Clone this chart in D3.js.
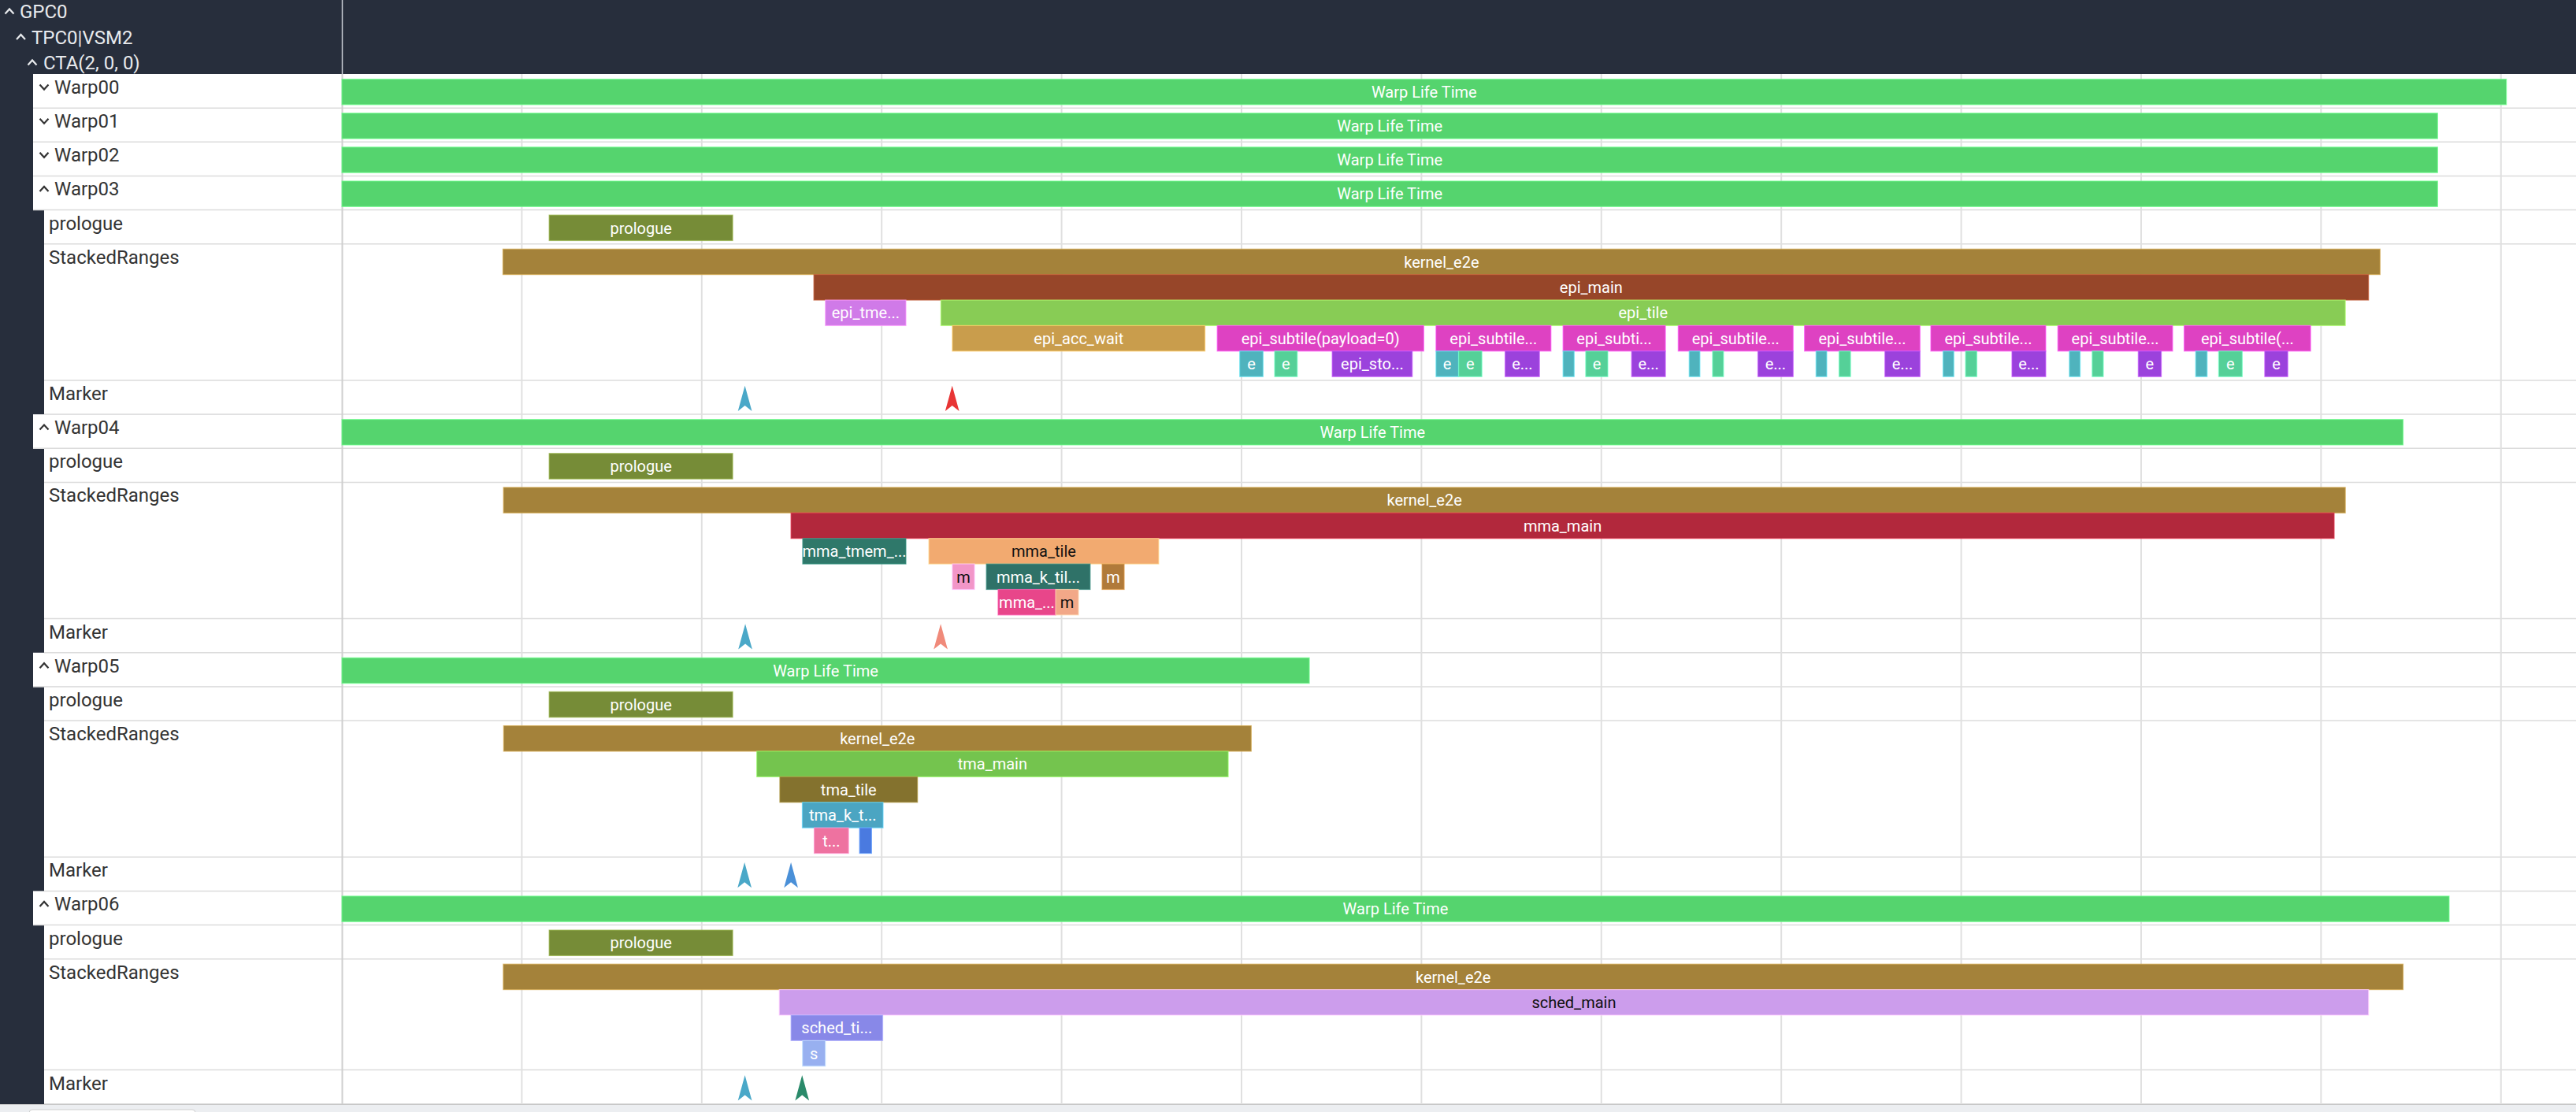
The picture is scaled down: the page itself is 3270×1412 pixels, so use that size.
<!DOCTYPE html>
<html>
<head>
<meta charset="utf-8">
<title>Warp timeline</title>
<script src="https://cdn.jsdelivr.net/npm/d3@7"></script>
<style>
  html, body { margin: 0; padding: 0; background: #fff; overflow: hidden; }
  #timeline { width: 3270px; height: 1412px; }
  text { font-family: Roboto, "Noto Sans", sans-serif; }
</style>
</head>
<body>
<div id="timeline"></div>
<script>
// ---- data (time in grid units, one unit per grid column) ----
const treeNodes = ['GPC0', 'TPC0|VSM2', 'CTA(2, 0, 0)'];

const warpNames = ['Warp00', 'Warp01', 'Warp02', 'Warp03', 'Warp04', 'Warp05', 'Warp06'];
const warpExpanded = [false, false, false, true, true, true, true];
const warpLifeStart = [0, 0, 0, 0, 0, 0, 0];
const warpLifeEnd = [12.03, 11.648, 11.648, 11.648, 11.456, 5.377, 11.712];
const lifeLabel = 'Warp Life Time';

const prologueStart = [null, null, null, 1.152, 1.152, 1.152, 1.152];
const prologueEnd = [null, null, null, 2.172, 2.172, 2.172, 2.172];

// [kind, shown label, start, end]
const stackedWarp03 = [
    ['kernel_e2e', 'kernel_e2e', 0.895, 11.328],
    ['epi_main', 'epi_main', 2.623, 11.264],
    ['epi_tmem_alloc', 'epi_tme...', 2.687, 3.135],
    ['epi_tile', 'epi_tile', 3.329, 11.135],
    ['epi_acc_wait', 'epi_acc_wait', 3.393, 4.797],
    ['epi_subtile', 'epi_subtile(payload=0)', 4.865, 6.013],
    ['epi_tmem_load', 'e', 4.990, 5.120],
    ['epi_smem_store', 'e', 5.184, 5.310],
    ['epi_tma_store', 'epi_sto...', 5.504, 5.949],
    ['epi_subtile', 'epi_subtile...', 6.081, 6.720],
    ['epi_tmem_load', 'e', 6.081, 6.206],
    ['epi_smem_store', 'e', 6.207, 6.336],
    ['epi_tma_store', 'e...', 6.465, 6.656],
    ['epi_subtile', 'epi_subti...', 6.787, 7.356],
    ['epi_tmem_load', '', 6.787, 6.849],
    ['epi_smem_store', 'e', 6.913, 7.036],
    ['epi_tma_store', 'e...', 7.168, 7.356],
    ['epi_subtile', 'epi_subtile...', 7.427, 8.066],
    ['epi_tmem_load', '', 7.488, 7.548],
    ['epi_smem_store', '', 7.618, 7.679],
    ['epi_tma_store', 'e...', 7.870, 8.066],
    ['epi_subtile', 'epi_subtile...', 8.129, 8.771],
    ['epi_tmem_load', '', 8.193, 8.253],
    ['epi_smem_store', '', 8.321, 8.385],
    ['epi_tma_store', 'e...', 8.576, 8.771],
    ['epi_subtile', 'epi_subtile...', 8.831, 9.470],
    ['epi_tmem_load', '', 8.899, 8.959],
    ['epi_smem_store', '', 9.024, 9.087],
    ['epi_tma_store', 'e...', 9.282, 9.470],
    ['epi_subtile', 'epi_subtile...', 9.537, 10.175],
    ['epi_tmem_load', '', 9.601, 9.661],
    ['epi_smem_store', '', 9.728, 9.790],
    ['epi_tma_store', 'e', 9.984, 10.112],
    ['epi_subtile', 'epi_subtile(...', 10.239, 10.942],
    ['epi_tmem_load', '', 10.303, 10.367],
    ['epi_smem_store', 'e', 10.431, 10.562],
    ['epi_tma_store', 'e', 10.687, 10.815]
];

const stackedWarp04 = [
    ['kernel_e2e', 'kernel_e2e', 0.898, 11.135],
    ['mma_main', 'mma_main', 2.496, 11.073],
    ['mma_tmem_alloc', 'mma_tmem_...', 2.561, 3.135],
    ['mma_tile', 'mma_tile', 3.262, 4.540],
    ['mma_acc_wait', 'm', 3.393, 3.516],
    ['mma_k_tile', 'mma_k_til...', 3.582, 4.159],
    ['mma_tma_wait', 'mma_...', 3.647, 3.967],
    ['mma_issue', 'm', 3.967, 4.094],
    ['mma_commit', 'm', 4.225, 4.348]
];

const stackedWarp05 = [
    ['kernel_e2e', 'kernel_e2e', 0.899, 5.054],
    ['tma_main', 'tma_main', 2.306, 4.926],
    ['tma_tile', 'tma_tile', 2.434, 3.199],
    ['tma_k_tile', 'tma_k_t...', 2.559, 3.008],
    ['tma_wait', 't...', 2.625, 2.816],
    ['tma_issue', '', 2.877, 2.944]
];

const stackedWarp06 = [
    ['kernel_e2e', 'kernel_e2e', 0.897, 11.456],
    ['sched_main', 'sched_main', 2.431, 11.264],
    ['sched_tile', 'sched_ti...', 2.496, 3.006],
    ['sched_fetch', 's', 2.560, 2.687]
];

// [kind, time]
const markerWarp03 = [['launch', 2.240], ['epi_ready', 3.392]];
const markerWarp04 = [['launch', 2.242], ['mma_ready', 3.328]];
const markerWarp05 = [['launch', 2.238], ['tma_ready', 2.496]];
const markerWarp06 = [['launch', 2.240], ['sched_ready', 2.558]];

const stackedByWarp = [null, null, null, stackedWarp03, stackedWarp04, stackedWarp05, stackedWarp06];
const markersByWarp = [null, null, null, markerWarp03, markerWarp04, markerWarp05, markerWarp06];

const gridTicks = [1, 2, 3, 4, 5, 6, 7, 8, 9, 10, 11, 12];
const timeEnd = 12.417;

// ---- styles ----
const kindColor = {
    life: '#55d46e', prologue: '#768c37', kernel_e2e: '#a4823a',
    epi_main: '#974629', epi_tmem_alloc: '#d07ae8', epi_tile: '#88cc55', epi_acc_wait: '#c99d4c',
    epi_subtile: '#de42c2', epi_tmem_load: '#4fb3bd', epi_smem_store: '#55d098', epi_tma_store: '#9b42dc',
    mma_main: '#b2283c', mma_tmem_alloc: '#2f786a', mma_tile: '#f2aa70', mma_acc_wait: '#f296c8',
    mma_k_tile: '#2f7268', mma_tma_wait: '#e8468a', mma_issue: '#f2a888', mma_commit: '#b07a3a',
    tma_main: '#74c44e', tma_tile: '#84722e', tma_k_tile: '#4ba5c2', tma_wait: '#ee72a0', tma_issue: '#4a7ae0',
    sched_main: '#cc9dec', sched_tile: '#8888e8', sched_fetch: '#98b0f0'
};
const darkTextKinds = ['mma_tile', 'mma_acc_wait', 'mma_issue', 'sched_main'];
const markerColor = {
    launch: '#4aa8c8', epi_ready: '#e83535', mma_ready: '#f08a7a',
    tma_ready: '#4a90d8', sched_ready: '#2a8a6a'
};

document.addEventListener('DOMContentLoaded', function() {
    const W = 3270, H = 1412;
    const headerH = 94;
    const panelW = 434;
    const rowH = 43.15;
    const levelH = 32.4;
    const barPad = 6.5;
    const bodyBottom = 1402;
    const darkBg = '#272e3c';

    const svg = d3.select('#timeline').append('svg')
        .attr('width', W)
        .attr('height', H);

    const x = d3.scaleLinear().domain([0, timeEnd]).range([panelW, W]);

    // nesting depth of ranges from containment
    function withDepth(list) {
        const items = list.map(d => ({ kind: d[0], label: d[1], start: d[2], end: d[3] }))
            .sort((a, b) => a.start - b.start || b.end - a.end);
        const stack = [];
        items.forEach(it => {
            while (stack.length && stack[stack.length - 1].end <= it.start) stack.pop();
            it.depth = stack.length;
            stack.push(it);
        });
        return items;
    }

    // build the row list
    const rows = [];
    let y = headerH;
    warpNames.forEach((name, i) => {
        rows.push({ type: 'warp', label: name, i, y, h: rowH });
        y += rowH;
        if (!warpExpanded[i]) return;
        rows.push({ type: 'prologue', label: 'prologue', i, y, h: rowH });
        y += rowH;
        const ranges = withDepth(stackedByWarp[i]);
        const levels = d3.max(ranges, d => d.depth) + 1;
        const h = levels * levelH + 11.2;
        rows.push({ type: 'stacked', label: 'StackedRanges', i, y, h, ranges });
        y += h;
        rows.push({ type: 'marker', label: 'Marker', i, y, h: rowH });
        y += rowH;
    });

    // backgrounds
    svg.append('rect').attr('x', 0).attr('y', 0).attr('width', W).attr('height', H).attr('fill', '#fff');
    svg.append('rect').attr('x', 0).attr('y', 0).attr('width', panelW).attr('height', bodyBottom).attr('fill', darkBg);
    svg.append('rect').attr('x', 0).attr('y', 0).attr('width', W).attr('height', headerH).attr('fill', darkBg);

    const rowG = svg.append('g');
    rowG.selectAll('rect.lab')
        .data(rows)
        .enter()
        .append('rect')
        .attr('class', 'lab')
        .attr('x', d => d.type === 'warp' ? 42 : 56)
        .attr('y', d => d.y)
        .attr('width', d => panelW - (d.type === 'warp' ? 42 : 56))
        .attr('height', d => d.h)
        .attr('fill', '#fff');

    // row separators
    rowG.selectAll('line.sep')
        .data(rows)
        .enter()
        .append('line')
        .attr('x1', d => d.type === 'warp' ? 42 : 56)
        .attr('x2', W)
        .attr('y1', d => d.y + d.h)
        .attr('y2', d => d.y + d.h)
        .attr('stroke', '#dcdcdc')
        .attr('stroke-width', 1.5);

    // vertical grid
    svg.append('g').selectAll('line')
        .data(gridTicks)
        .enter()
        .append('line')
        .attr('x1', d => x(d)).attr('x2', d => x(d))
        .attr('y1', headerH).attr('y2', bodyBottom)
        .attr('stroke', '#e0e0e0')
        .attr('stroke-width', 2);

    // panel boundary
    svg.append('line')
        .attr('x1', panelW + 0.5).attr('x2', panelW + 0.5)
        .attr('y1', headerH).attr('y2', bodyBottom)
        .attr('stroke', '#cfcfcf').attr('stroke-width', 2);
    svg.append('line')
        .attr('x1', panelW + 0.5).attr('x2', panelW + 0.5)
        .attr('y1', 0).attr('y2', headerH)
        .attr('stroke', '#c8ccd4').attr('stroke-width', 1.5);

    // collect all bars
    const bars = [];
    rows.forEach(r => {
        const i = r.i;
        if (r.type === 'warp') {
            bars.push({ kind: 'life', label: lifeLabel, start: warpLifeStart[i], end: warpLifeEnd[i], y: r.y + barPad });
        } else if (r.type === 'prologue') {
            bars.push({ kind: 'prologue', label: 'prologue', start: prologueStart[i], end: prologueEnd[i], y: r.y + barPad });
        } else if (r.type === 'stacked') {
            r.ranges.forEach(d => bars.push(Object.assign({}, d, { y: r.y + barPad + d.depth * levelH })));
        }
    });

    const barG = svg.append('g').selectAll('g')
        .data(bars)
        .enter()
        .append('g');

    barG.append('rect')
        .attr('x', d => x(d.start))
        .attr('y', d => d.y)
        .attr('width', d => x(d.end) - x(d.start))
        .attr('height', levelH)
        .attr('fill', d => kindColor[d.kind])
        .attr('stroke', d => d3.color(kindColor[d.kind]).brighter(0.7))
        .attr('stroke-opacity', 0.7)
        .attr('stroke-width', 1.2);

    barG.filter(d => d.label)
        .append('text')
        .attr('x', d => (x(d.start) + x(d.end)) / 2)
        .attr('y', d => d.y + levelH / 2)
        .attr('dy', '0.36em')
        .attr('text-anchor', 'middle')
        .attr('font-size', 20)
        .attr('fill', d => darkTextKinds.includes(d.kind) ? '#111' : '#fff')
        .text(d => d.label);

    // markers (up arrowheads)
    const markers = [];
    rows.filter(r => r.type === 'marker').forEach(r => {
        markersByWarp[r.i].forEach(m => markers.push({ kind: m[0], t: m[1], y: r.y }));
    });
    const mw = 17.7, mh = 32.3, notch = 7;
    svg.append('g').selectAll('path')
        .data(markers)
        .enter()
        .append('path')
        .attr('transform', d => `translate(${x(d.t)},${d.y + 6.7})`)
        .attr('d', `M0,0L${mw / 2},${mh}L0,${mh - notch}L${-mw / 2},${mh}Z`)
        .attr('fill', d => markerColor[d.kind]);

    // chevrons
    function chevron(g, cx, cy, up, color) {
        const dy = up ? 3 : -3;
        g.append('path')
            .attr('d', `M${cx - 5.5},${cy + dy}L${cx},${cy - dy}L${cx + 5.5},${cy + dy}`)
            .attr('fill', 'none')
            .attr('stroke', color)
            .attr('stroke-width', 2.2);
    }

    // header tree
    const head = svg.append('g');
    treeNodes.forEach((n, k) => {
        chevron(head, 12 + k * 14.5, 14.5 + k * 32.5, true, '#e8eaed');
        head.append('text')
            .attr('x', 25 + k * 15)
            .attr('y', 23 + k * 32.5)
            .attr('font-size', 24)
            .attr('fill', '#e8eaed')
            .text(n);
    });

    // row labels
    const labG = svg.append('g');
    rows.forEach(r => {
        if (r.type === 'warp') {
            chevron(labG, 56, r.y + 16.5, warpExpanded[r.i], '#333');
        }
        labG.append('text')
            .attr('x', r.type === 'warp' ? 69 : 62)
            .attr('y', r.y + 25)
            .attr('font-size', 24)
            .attr('fill', '#333')
            .text(r.label);
    });

    // bottom scroll strip
    svg.append('rect').attr('x', 0).attr('y', bodyBottom).attr('width', W).attr('height', H - bodyBottom).attr('fill', '#eceef1');
    svg.append('line').attr('x1', 0).attr('x2', W).attr('y1', bodyBottom + 0.5).attr('y2', bodyBottom + 0.5)
        .attr('stroke', '#c8c8c8').attr('stroke-width', 1);
    svg.append('rect').attr('x', 37).attr('y', 1409).attr('width', 211).attr('height', 10).attr('rx', 4)
        .attr('fill', '#fff').attr('stroke', '#cfcfcf');
});
</script>
</body>
</html>
